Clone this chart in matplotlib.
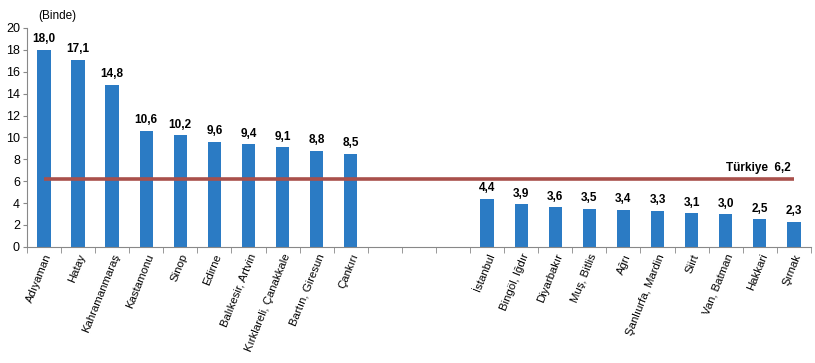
import matplotlib
matplotlib.use("Agg")
import matplotlib.pyplot as plt

plt.rcParams['font.family'] = ['Liberation Sans', 'DejaVu Sans']

top_labels = ["Adıyaman", "Hatay", "Kahramanmaraş", "Kastamonu", "Sinop", "Edirne",
              "Balıkesir, Artvin", "Kırklareli, Çanakkale", "Bartın, Giresun", "Çankırı"]
top_values = [18.0, 17.1, 14.8, 10.6, 10.2, 9.6, 9.4, 9.1, 8.8, 8.5]
bottom_labels = ["İstanbul", "Bingöl, Iğdır", "Diyarbakır", "Muş, Bitlis", "Ağrı",
                 "Şanlıurfa, Mardin", "Siirt", "Van, Batman", "Hakkari", "Şırnak"]
bottom_values = [4.4, 3.9, 3.6, 3.5, 3.4, 3.3, 3.1, 3.0, 2.5, 2.3]
turkiye = 6.2
gap = 3

def fmt(v):
    return f"{v:.1f}".replace(".", ",")

fig = plt.figure(figsize=(8.15, 3.63), dpi=100)
ax = fig.add_axes([0.033, 0.32, 0.962, 0.603])

n_top = len(top_values)
x_top = list(range(n_top))
x_bot = [n_top + gap + i for i in range(len(bottom_values))]
n_total = n_top + gap + len(bottom_values)

bar_color = "#2B7BC4"
ax.bar(x_top, top_values, width=0.39, color=bar_color, zorder=2)
ax.bar(x_bot, bottom_values, width=0.39, color=bar_color, zorder=2)

for x, v in zip(x_top + x_bot, top_values + bottom_values):
    ax.text(x, v + 0.4, fmt(v), ha="center", va="bottom", fontsize=8.5,
            fontweight="bold")

ax.plot([0, n_total - 1], [turkiye, turkiye], color="#A9504B", lw=2.6, zorder=3,
        solid_capstyle="butt")
ax.text(n_total - 1.1, turkiye + 0.5, "Türkiye  " + fmt(turkiye), ha="right",
        va="bottom", fontsize=8.5, fontweight="bold")

ax.set_xlim(-0.5, n_total - 0.5)
ax.set_ylim(0, 20)
ax.set_yticks(range(0, 21, 2))
ax.tick_params(axis="y", labelsize=9, length=3, color="#888888", pad=2)

labels = top_labels + [""] * gap + bottom_labels
ax.set_xticks(range(n_total))
ax.set_xticklabels(labels, rotation=68, ha="right", rotation_mode="anchor",
                   fontsize=8.2)
ax.tick_params(axis="x", length=0, pad=4)
ax.set_xticks([i - 0.5 for i in range(n_total + 1)], minor=True)
ax.tick_params(axis="x", which="minor", length=4, color="#888888")

for s in ["top", "right"]:
    ax.spines[s].set_visible(False)
ax.spines["left"].set_color("#888888")
ax.spines["bottom"].set_color("#888888")
ax.spines["left"].set_linewidth(0.8)
ax.spines["bottom"].set_linewidth(0.8)

fig.text(0.047, 0.955, "(Binde)", fontsize=8.5, ha="left", va="center")

fig.savefig("out.png", dpi=100)
